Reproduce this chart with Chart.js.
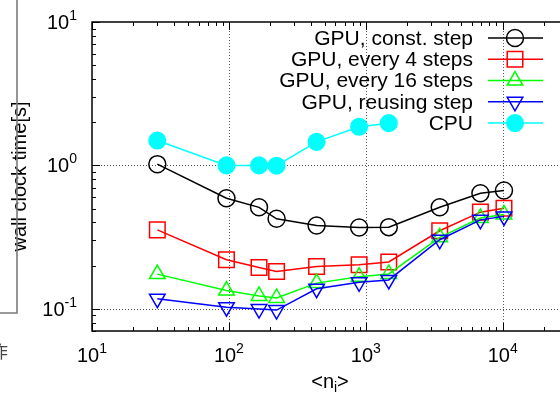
<!DOCTYPE html>
<html><head><meta charset="utf-8">
<script src="https://cdn.jsdelivr.net/npm/chart.js@4/dist/chart.umd.min.js"></script>
<style>
html,body{margin:0;padding:0;overflow:hidden;background:#fff;width:560px;height:394px;}
#wrap{position:absolute;left:0;top:0;width:600px;height:394px;}
</style></head><body>
<div id="wrap"><canvas id="c" width="600" height="394"></canvas></div>
<script>
// ---- data ----
const nValues   = [30, 96, 166, 223, 437, 894, 1472, 3468, 6875, 10220];
const constStep = [1.02, 0.59, 0.51, 0.424, 0.381, 0.369, 0.371, 0.511, 0.64, 0.668];
const every4    = [0.355, 0.22, 0.194, 0.182, 0.197, 0.203, 0.212, 0.35, 0.472, 0.502];
const every16   = [0.1745, 0.134, 0.123, 0.119, 0.151, 0.167, 0.175, 0.315, 0.43, 0.455];
const reusing   = [0.1175, 0.1027, 0.0995, 0.098, 0.138, 0.153, 0.159, 0.303, 0.417, 0.441];
const cpu       = [1.49, 1.0, 1.0, 0.995, 1.46, 1.86, 1.97];
const seriesLabels = ['GPU, const. step', 'GPU, every 4 steps', 'GPU, every 16 steps', 'GPU, reusing step', 'CPU'];
const xTickExps = [1, 2, 3, 4];
const yTickExps = [-1, 0, 1];
const xMin = 10, xMax = 30000, yMin = 0.07, yMax = 10;
const xTitle = ['<n', 'i', '>'];
const yTitle = 'wall clock time[s]';
const cutChar = '作';

const FONT = '"Liberation Sans", Arial, Helvetica, sans-serif';
const styles = [
  {color:'#000000', style:'circle',   radius:8.5, fill:false, rot:0},
  {color:'#ff0000', style:'rect',     radius:11,  fill:false, rot:0},
  {color:'#00ff00', style:'triangle', radius:9,   fill:false, rot:0},
  {color:'#0000ff', style:'triangle', radius:9,   fill:false, rot:180},
  {color:'#00ffff', style:'circle',   radius:8.3, fill:true,  rot:0}
];
const seriesValues = [constStep, every4, every16, reusing, cpu];

const datasets = seriesValues.map((vals, i) => {
  const s = styles[i];
  return {
    label: seriesLabels[i],
    data: vals.map((v, j) => ({x: nValues[j], y: v})),
    borderColor: s.color, backgroundColor: s.color, borderWidth: 1.5,
    pointStyle: s.style, pointRadius: s.radius, pointHoverRadius: s.radius,
    pointBorderWidth: 1.5, pointBorderColor: s.color,
    pointBackgroundColor: s.fill ? s.color : 'rgba(0,0,0,0)',
    pointRotation: s.rot, order: 5 - i, tension: 0, clip: false, fill: false
  };
});

function drawPow(ctx, exp, x, y, align) {
  const base = '10', sup = String(exp);
  ctx.font = '20px ' + FONT; const wb = ctx.measureText(base).width;
  ctx.font = '14px ' + FONT; const ws = ctx.measureText(sup).width;
  const total = wb + ws;
  const sx = align === 'center' ? x - total / 2 : x - total;
  ctx.textAlign = 'left'; ctx.textBaseline = 'alphabetic'; ctx.fillStyle = '#000';
  ctx.font = '20px ' + FONT; ctx.fillText(base, sx, y);
  ctx.font = '14px ' + FONT; ctx.fillText(sup, sx + wb, y - 9);
}

function marker(ctx, s, x, y) {
  ctx.save();
  ctx.strokeStyle = s.color; ctx.lineWidth = 1.5;
  ctx.fillStyle = s.fill ? s.color : 'rgba(0,0,0,0)';
  if (Chart.helpers && Chart.helpers.drawPoint) {
    Chart.helpers.drawPoint(ctx, {pointStyle: s.style, radius: s.radius, rotation: s.rot, borderWidth: 1.5}, x, y);
  } else {
    ctx.beginPath(); ctx.arc(x, y, s.radius, 0, Math.PI * 2); ctx.fill(); ctx.stroke();
  }
  ctx.restore();
}

const decor = {
  id: 'decor',
  beforeDatasetsDraw(chart) {
    const {ctx, chartArea: a, scales: {x, y}} = chart;
    ctx.save();
    // dotted grid at decades
    ctx.setLineDash([1, 2]); ctx.lineWidth = 1; ctx.strokeStyle = '#555';
    xTickExps.forEach(e => {
      const v = Math.pow(10, e); if (v <= xMin || v >= xMax) return;
      const px = Math.round(x.getPixelForValue(v)) + 0.5;
      ctx.beginPath(); ctx.moveTo(px, a.top); ctx.lineTo(px, a.bottom); ctx.stroke();
    });
    yTickExps.forEach(e => {
      const v = Math.pow(10, e); if (v <= yMin || v >= yMax) return;
      const py = Math.round(y.getPixelForValue(v)) + 0.5;
      ctx.beginPath(); ctx.moveTo(a.left, py); ctx.lineTo(a.right, py); ctx.stroke();
    });
    ctx.setLineDash([]);
    // ticks
    ctx.strokeStyle = '#000'; ctx.lineWidth = 1;
    for (let k = 1; k <= 4; k++) for (let m = 1; m <= 9; m++) {
      const v = m * Math.pow(10, k); if (v < xMin || v > xMax) continue;
      const px = Math.round(x.getPixelForValue(v)) + 0.5; const len = m === 1 ? 8 : 4;
      ctx.beginPath(); ctx.moveTo(px, a.bottom); ctx.lineTo(px, a.bottom - len);
      ctx.moveTo(px, a.top); ctx.lineTo(px, a.top + len); ctx.stroke();
    }
    for (let k = -2; k <= 1; k++) for (let m = 1; m <= 9; m++) {
      const v = m * Math.pow(10, k); if (v < yMin - 1e-9 || v > yMax + 1e-9) continue;
      const py = Math.round(y.getPixelForValue(v)) + 0.5; const len = m === 1 ? 8 : 4;
      ctx.beginPath(); ctx.moveTo(a.left, py); ctx.lineTo(a.left + len, py);
      ctx.moveTo(a.right, py); ctx.lineTo(a.right - len, py); ctx.stroke();
    }
    // frame
    ctx.lineWidth = 1.5; ctx.strokeStyle = '#000';
    ctx.strokeRect(a.left, a.top, a.right - a.left, a.bottom - a.top);
    ctx.restore();
  },
  afterDraw(chart) {
    const {ctx, chartArea: a, scales: {x, y}} = chart;
    ctx.save();
    // tick labels
    xTickExps.forEach(e => drawPow(ctx, e, x.getPixelForValue(Math.pow(10, e)), a.bottom + 31, 'center'));
    yTickExps.forEach(e => drawPow(ctx, e, a.left - 15, y.getPixelForValue(Math.pow(10, e)) + 7, 'right'));
    // x title <n_i>
    ctx.fillStyle = '#000'; ctx.textBaseline = 'alphabetic'; ctx.textAlign = 'left';
    ctx.font = '20px ' + FONT; const w0 = ctx.measureText(xTitle[0]).width, w2 = ctx.measureText(xTitle[2]).width;
    ctx.font = '14px ' + FONT; const w1 = ctx.measureText(xTitle[1]).width;
    const cx = (a.left + a.right) / 2; let sx = cx - (w0 + w1 + w2) / 2; const by = a.bottom + 57;
    ctx.font = '20px ' + FONT; ctx.fillText(xTitle[0], sx, by);
    ctx.font = '14px ' + FONT; ctx.fillText(xTitle[1], sx + w0, by + 4);
    ctx.font = '20px ' + FONT; ctx.fillText(xTitle[2], sx + w0 + w1, by);
    // y title
    ctx.save();
    ctx.translate(20.5, (a.top + a.bottom) / 2); ctx.rotate(-Math.PI / 2);
    ctx.textAlign = 'center'; ctx.textBaseline = 'middle'; ctx.font = '20px ' + FONT;
    ctx.fillText(yTitle, 0, 0);
    ctx.restore();
    // legend
    seriesLabels.forEach((lab, i) => {
      const ly = 38 + i * 21.25;
      ctx.font = '21px ' + FONT; ctx.textAlign = 'right'; ctx.textBaseline = 'middle'; ctx.fillStyle = '#000';
      ctx.fillText(lab, 473, ly + 1);
      ctx.strokeStyle = styles[i].color; ctx.lineWidth = 1.5;
      ctx.beginPath(); ctx.moveTo(488, ly); ctx.lineTo(543, ly); ctx.stroke();
      marker(ctx, styles[i], 515, ly);
    });
    // fragments of the neighbouring figure
    ctx.strokeStyle = '#7a7a7a'; ctx.lineWidth = 1.6;
    ctx.beginPath(); ctx.moveTo(17, 0); ctx.lineTo(17, 313); ctx.lineTo(0, 313); ctx.stroke();
    ctx.font = '17px "Noto Sans CJK SC"'; ctx.fillStyle = '#444'; ctx.textAlign = 'right'; ctx.textBaseline = 'middle';
    ctx.fillText(cutChar, 8, 352);
    ctx.restore();
  }
};

new Chart(document.getElementById('c'), {
  type: 'line',
  data: {datasets},
  options: {
    responsive: false, animation: false, devicePixelRatio: 1,
    layout: {padding: {left: 92, top: 22, right: 32, bottom: 63}},
    scales: {
      x: {type: 'logarithmic', min: xMin, max: xMax, display: false},
      y: {type: 'logarithmic', min: yMin, max: yMax, display: false}
    },
    plugins: {legend: {display: false}, tooltip: {enabled: false}}
  },
  plugins: [decor]
});
</script>
</body></html>
